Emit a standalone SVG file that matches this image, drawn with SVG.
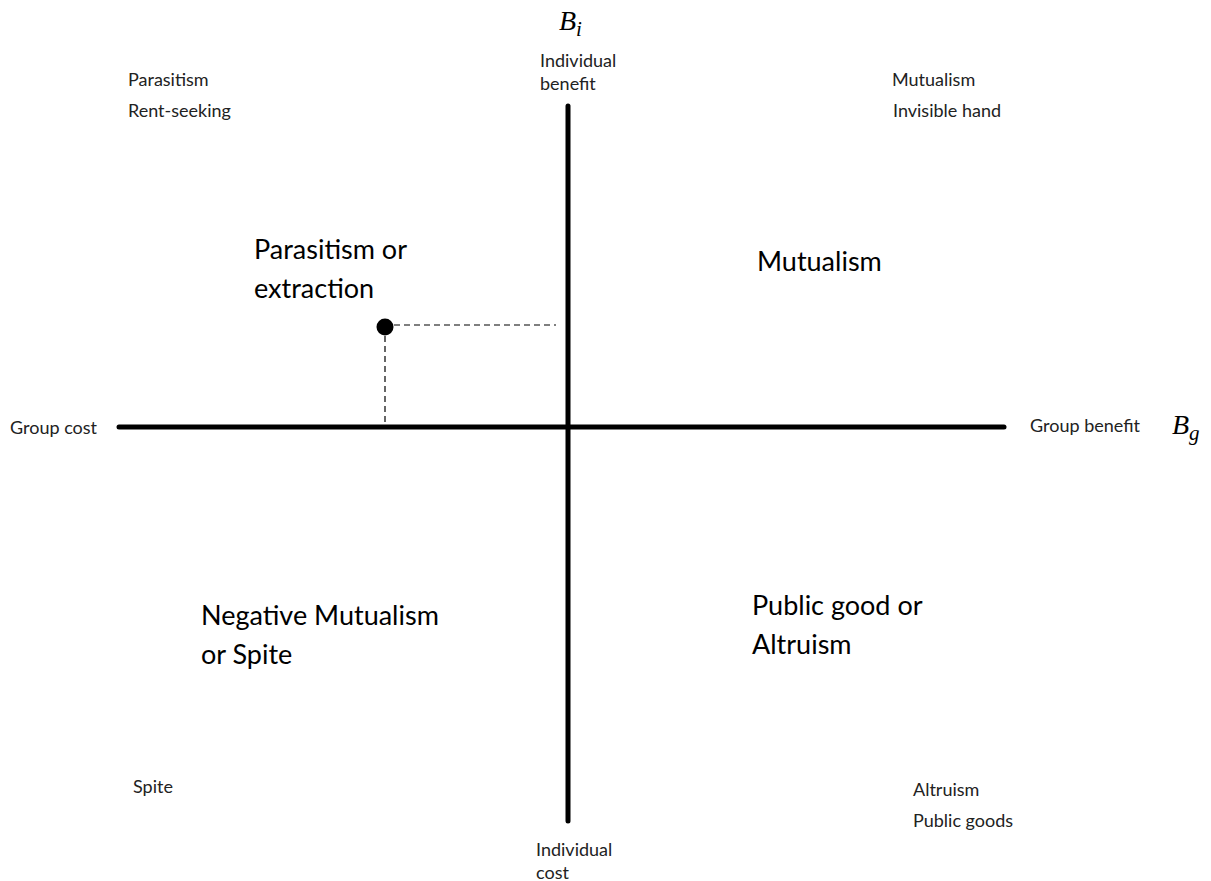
<svg xmlns="http://www.w3.org/2000/svg" width="1211" height="881" viewBox="0 0 1211 881">
  <style>
    .axis { stroke: #000; stroke-width: 5; stroke-linecap: round; fill: none; }
    .guide { stroke: #000; stroke-width: 1.2; stroke-dasharray: 6 4; fill: none; }
    .big { font-family: Lato, "Open Sans", sans-serif; font-size: 27px; fill: #000; }
    .small { font-family: Lato, "Open Sans", sans-serif; font-size: 18px; fill: #222; }
    .math { font-family: "Liberation Serif", "DejaVu Serif", serif; font-style: italic; fill: #000; }
  </style>
  <rect width="1211" height="881" fill="#fff"/>

  <!-- axes -->
  <g id="axes">
    <line class="axis" x1="119" y1="427" x2="1004" y2="427"/>
    <line class="axis" x1="568" y1="106" x2="568" y2="821"/>
  </g>

  <!-- example point with guide lines -->
  <g id="connectors">
    <line class="guide" x1="394" y1="325" x2="556" y2="325"/>
    <line class="guide" x1="385" y1="336" x2="385" y2="424"/>
  </g>
  <g id="point">
    <circle cx="385" cy="327" r="8.5" fill="#000"/>
  </g>

  <!-- axis labels -->
  <g id="axis-labels">
    <text class="math" x="559" y="30" font-size="28">B<tspan font-size="21" dy="6">i</tspan></text>
    <text class="math" x="1172" y="434" font-size="28">B<tspan font-size="21" dy="6">g</tspan></text>
    <text class="small" x="540" y="67">Individual</text>
    <text class="small" x="540" y="90">benefit</text>
    <text class="small" x="536" y="856">Individual</text>
    <text class="small" x="536" y="879">cost</text>
    <text class="small" x="10" y="434">Group cost</text>
    <text class="small" x="1030" y="432">Group benefit</text>
  </g>

  <!-- quadrant names -->
  <g id="q-top-left">
    <text class="big" x="254" y="259">Parasitism or</text>
    <text class="big" x="254" y="298">extraction</text>
    <text class="small" x="128" y="86">Parasitism</text>
    <text class="small" x="128" y="117">Rent-seeking</text>
  </g>
  <g id="q-top-right">
    <text class="big" x="757" y="271">Mutualism</text>
    <text class="small" x="892" y="86">Mutualism</text>
    <text class="small" x="893" y="117">Invisible hand</text>
  </g>
  <g id="q-bottom-left">
    <text class="big" x="201" y="625">Negative Mutualism</text>
    <text class="big" x="201" y="664">or Spite</text>
    <text class="small" x="133" y="793">Spite</text>
  </g>
  <g id="q-bottom-right">
    <text class="big" x="752" y="615">Public good or</text>
    <text class="big" x="752" y="654">Altruism</text>
    <text class="small" x="913" y="796">Altruism</text>
    <text class="small" x="913" y="827">Public goods</text>
  </g>
</svg>
